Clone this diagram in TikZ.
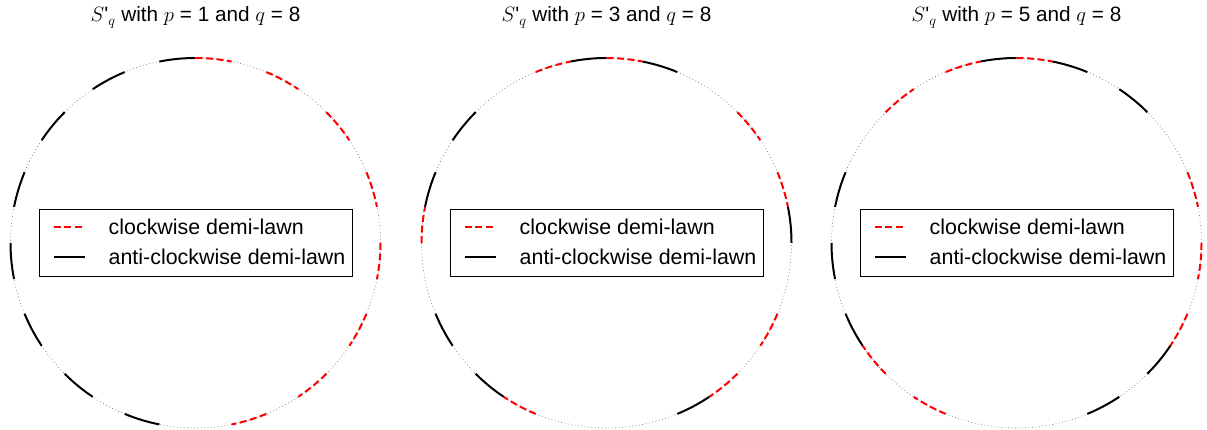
\documentclass[tikz,border=0pt]{standalone}
\usepackage{amsmath}
\usepackage{fontspec}
\setmainfont{Liberation Sans}
\usepackage{tikz}
\usetikzlibrary{positioning}

\begin{document}
\begin{tikzpicture}[x=1pt, y=1pt, font=\huge]
    % Stili
    \tikzstyle{rim} = [draw=gray, line width=0.7pt, dash pattern=on 0.8pt off 2.6pt]
    \tikzstyle{anti} = [draw=black, line width=2pt]
    \tikzstyle{clock} = [draw=red, line width=2pt, dash pattern=on 7pt off 3.5pt]
    \tikzstyle{legbox} = [draw, line width=0.8pt, rectangle, minimum width=313pt, minimum height=67pt, inner sep=0pt]
    \tikzstyle{legtext} = [inner sep=0pt, font=\fontsize{21.4}{25}\selectfont]

    \useasboundingbox (0,0) rectangle (1207,430);

    % Tre cerchi: nome, ascissa del centro, p
    \foreach \n/\cx/\p in {a/195.5/1, b/606.5/3, c/1016.5/5} {
        \coordinate (c\n) at (\cx,187);
        \draw[rim] (c\n) circle[radius=185];

        % Archi dei demi-lawn (q = 8)
        \foreach \k in {0,...,7} {
            \pgfmathsetmacro{\ang}{90+22.5*\p*\k}
            \pgfmathsetmacro{\bng}{180-\ang}
            \draw[anti] (c\n) ++(\ang:185) arc[start angle=\ang, delta angle=11.25, radius=185];
            \draw[clock] (c\n) ++(\bng:185) arc[start angle=\bng, delta angle=-11.25, radius=185];
        }

        % Titolo
        \node[anchor=base] (t\n) at (\cx,408) {$S\text{\textquotesingle}{}_q$ with $p$ = \p{} and $q$ = 8};

        % Legenda
        \node[legbox] (leg\n) at (c\n) {};
        \coordinate (ra\n) at ([shift={(-142,15.7)}]c\n);
        \coordinate (rb\n) at ([shift={(-110.5,15.7)}]c\n);
        \coordinate (na\n) at ([shift={(-142,-13.7)}]c\n);
        \coordinate (nb\n) at ([shift={(-110.5,-13.7)}]c\n);
        \draw[clock] (ra\n) -- (rb\n);
        \draw[anti] (na\n) -- (nb\n);
        \node[legtext, right=23.5pt of rb\n] (la\n) {clockwise demi-lawn};
        \node[legtext, right=23.5pt of nb\n] (lb\n) {anti-clockwise demi-lawn};
    }
\end{tikzpicture}
\end{document}
